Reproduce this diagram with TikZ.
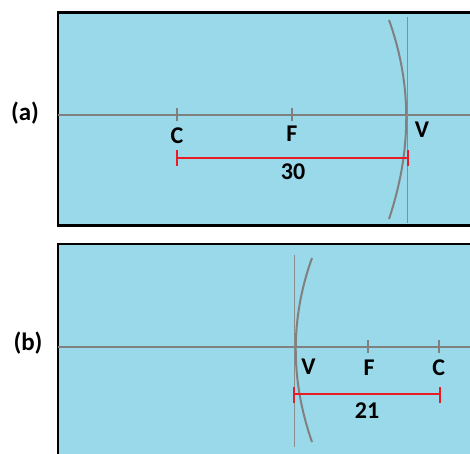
\documentclass[tikz,border=0pt]{standalone}
\usepackage{fontspec}
\setmainfont{Carlito}
\definecolor{bgblue}{RGB}{154,217,233}
\definecolor{axisgray}{RGB}{128,128,128}
\definecolor{thingray}{RGB}{140,140,140}
\definecolor{barred}{RGB}{232,28,36}
\begin{document}
\begin{tikzpicture}[x=1pt,y=-1pt,
  panel/.style={fill=bgblue,draw=black,line width=2.4pt},
  axisline/.style={draw=axisgray,line width=2pt},
  tick/.style={draw=axisgray,line width=1.6pt},
  vline/.style={draw=thingray,line width=1pt},
  mirror/.style={draw=axisgray,line width=2pt},
  bar/.style={draw=barred,line width=2.2pt},
  lbl/.style={inner sep=0pt,font=\fontsize{24}{24}\selectfont\bfseries},
  plbl/.style={inner sep=0pt,font=\fontsize{25}{25}\selectfont\bfseries}]
\clip (0,0) rectangle (470,453);
\fill[white] (0,0) rectangle (470,453);
% ---------- panel (a)
\draw[panel] (58,12.5) rectangle (480,225.5);
\coordinate (aL) at (58,115.3);
\coordinate (aR) at (472,115.3);
\draw[axisline] (aL) -- (aR);
\coordinate (aVt) at (407.3,17);
\coordinate (aVb) at (407.3,223);
\draw[vline] (aVt) -- (aVb);
\coordinate (aMt) at (389,20);
\coordinate (aMb) at (389,219);
\draw[mirror] (aMt) .. controls (412,84) and (412,150) .. (aMb);
\draw[tick] (177,108) -- (177,121);
\draw[tick] (292,108) -- (292,121);
\node[lbl] (aC) at (177,136) {C};
\node[lbl] (aF) at (292,133.5) {F};
\node[lbl] (aV) at (422,130) {V};
\coordinate (aB1) at (177,158.3);
\coordinate (aB2) at (408,158.3);
\draw[bar] (aB1) -- (aB2);
\draw[bar] (177,150) -- (177,165.5);
\draw[bar] (408,150) -- (408,165.5);
\node[lbl] (a30) at (293,172) {30};
\node[plbl] (alab) at (25,113) {(a)};
% ---------- panel (b)
\draw[panel] (58,244) rectangle (480,470);
\coordinate (bL) at (58,346.7);
\coordinate (bR) at (472,346.7);
\draw[axisline] (bL) -- (bR);
\coordinate (bVt) at (294.7,255);
\coordinate (bVb) at (294.7,447);
\draw[vline] (bVt) -- (bVb);
\coordinate (bMt) at (312,258);
\coordinate (bMb) at (312,442);
\draw[mirror] (bMt) .. controls (290.3,318) and (290.3,380) .. (bMb);
\draw[tick] (367.7,340) -- (367.7,352.5);
\draw[tick] (438.7,340) -- (438.7,352.5);
\node[lbl] (bV) at (308.5,367) {V};
\node[lbl] (bF) at (369,368) {F};
\node[lbl] (bC) at (438.7,368) {C};
\coordinate (bB1) at (294.3,394.3);
\coordinate (bB2) at (440,394.3);
\draw[bar] (bB1) -- (bB2);
\draw[bar] (294.3,386.5) -- (294.3,402.5);
\draw[bar] (440,386.5) -- (440,402.5);
\node[lbl] (b21) at (367,411) {21};
\node[plbl] (blab) at (28,343) {(b)};
\end{tikzpicture}
\end{document}
